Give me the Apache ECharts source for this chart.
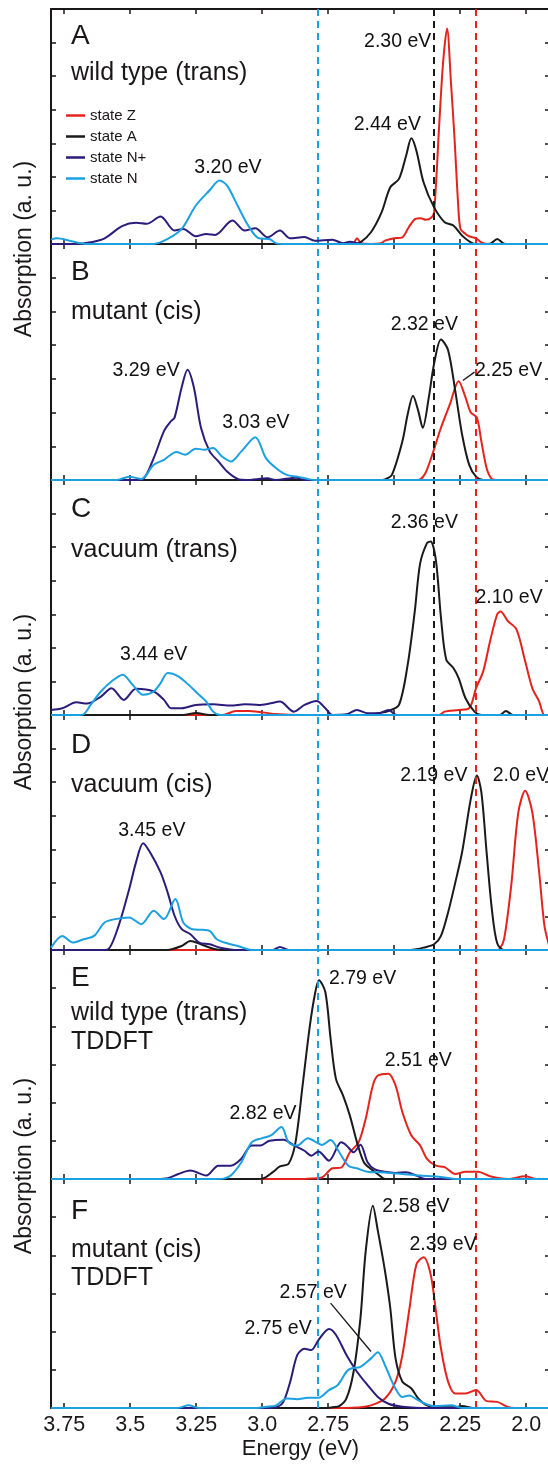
<!DOCTYPE html>
<html><head><meta charset="utf-8">
<script src="https://cdn.jsdelivr.net/npm/echarts@6/dist/echarts.min.js"></script>
<style>html,body{margin:0;padding:0;background:#fff}#c{width:548px;height:1468px}</style>
</head><body><div id="c"></div>
<script>
// ---------- axis ticks ----------
const xTicks = [3.75, 3.5, 3.25, 3.0, 2.75, 2.5, 2.25, 2.0];
const xTickLabels = ['3.75', '3.5', '3.25', '3.0', '2.75', '2.5', '2.25', '2.0'];
const seriesNames = ['state Z', 'state A', 'state N+', 'state N'];
const dashedEnergies = [2.79, 2.35, 2.19];

// ---------- panel A : wild type (trans) ----------
const A_Z = [[3.80,0],[2.70,0],[2.655,0.02],[2.641,0.17],[2.625,0.02],[2.59,0],[2.55,0.02],[2.535,0.1],[2.50,0.17],[2.469,0.2],[2.445,0.5],[2.42,0.75],[2.40,0.77],[2.38,0.72],[2.36,0.78],[2.349,0.94],[2.33,3.5],[2.315,5.4],[2.30,6.42],[2.285,4.8],[2.272,3.2],[2.258,1.2],[2.249,0.45],[2.23,0.3],[2.216,0.23],[2.19,0.17],[2.17,0.05],[2.14,0],[1.91,0]];
const A_A = [[3.80,0],[2.65,0],[2.628,0.05],[2.588,0.35],[2.548,0.94],[2.515,1.69],[2.482,1.94],[2.455,2.63],[2.435,3.15],[2.416,2.78],[2.389,1.84],[2.349,1.09],[2.309,0.65],[2.276,0.55],[2.243,0.25],[2.21,0.05],[2.19,0],[2.137,0.01],[2.11,0.15],[2.084,0.01],[2.06,0],[1.91,0]];
const A_Np = [[3.80,0],[3.70,0],[3.65,0.05],[3.597,0.17],[3.531,0.53],[3.478,0.63],[3.438,0.6],[3.385,0.82],[3.332,0.4],[3.299,0.45],[3.252,0.23],[3.212,0.3],[3.179,0.27],[3.113,0.7],[3.066,0.4],[3.026,0.47],[2.98,0.2],[2.933,0.4],[2.894,0.17],[2.84,0.21],[2.801,0.1],[2.734,0.13],[2.694,0.02],[2.668,0.07],[2.628,0],[1.91,0]];
const A_N = [[3.80,0.13],[3.777,0.17],[3.73,0.1],[3.664,0],[3.411,0],[3.358,0.15],[3.305,0.45],[3.252,1.14],[3.199,1.6],[3.162,1.89],[3.133,1.74],[3.093,1.14],[3.053,0.55],[3.013,0.17],[2.973,0.15],[2.947,0.02],[2.92,0],[1.91,0]];
const A_labels = [['3.20 eV',3.13,2.28],['2.44 eV',2.526,3.57],['2.30 eV',2.487,6.03]];

// ---------- panel B : mutant (cis) ----------
const B_Z = [[3.80,0],[2.42,0],[2.402,0.02],[2.382,0.2],[2.356,0.75],[2.323,1.55],[2.289,2.25],[2.256,2.93],[2.23,2.45],[2.21,2.0],[2.187,1.85],[2.17,1.15],[2.15,0.35],[2.13,0.03],[2.11,0],[1.91,0]];
const B_A = [[3.80,0],[2.56,0],[2.535,0.02],[2.509,0.15],[2.469,1.15],[2.449,1.95],[2.429,2.5],[2.409,2.05],[2.392,1.55],[2.369,2.45],[2.349,3.45],[2.323,4.17],[2.296,3.85],[2.269,2.65],[2.243,1.35],[2.216,0.45],[2.19,0.1],[2.163,0],[1.91,0]];
const B_Np = [[3.80,0],[3.48,0],[3.451,0.03],[3.411,0.65],[3.372,1.45],[3.345,1.75],[3.332,1.85],[3.305,2.75],[3.283,3.27],[3.259,2.75],[3.232,1.55],[3.199,0.85],[3.166,0.55],[3.133,0.25],[3.093,0.03],[3.06,0],[2.98,0.05],[2.95,0],[2.87,0.07],[2.84,0],[1.91,0]];
const B_N = [[3.80,0],[3.55,0],[3.504,0.1],[3.458,0.03],[3.411,0.45],[3.372,0.6],[3.325,0.83],[3.292,0.75],[3.252,0.93],[3.219,0.9],[3.186,0.95],[3.153,0.7],[3.119,0.55],[3.079,0.85],[3.026,1.27],[2.986,0.65],[2.947,0.35],[2.907,0.15],[2.867,0.1],[2.827,0.03],[2.80,0],[1.91,0]];
const B_labels = [['3.29 eV',3.44,3.25],['3.03 eV',3.024,1.7],['2.32 eV',2.386,4.6],['2.25 eV',2.067,3.25]];
const B_leader = [[2.24,2.95],[2.196,3.2]];

// ---------- panel C : vacuum (trans) ----------
const C_Z = [[3.80,0],[3.15,0],[3.10,0.12],[3.05,0.12],[2.95,0.03],[2.85,0],[2.33,0],[2.309,0.1],[2.256,0.15],[2.216,0.2],[2.19,0.8],[2.163,1.3],[2.137,2.2],[2.11,3.0],[2.097,3.08],[2.07,2.8],[2.037,2.55],[2.004,1.6],[1.977,0.8],[1.951,0.4],[1.931,0],[1.91,0]];
const C_A = [[3.80,0],[3.30,0],[3.25,0.06],[3.20,0],[2.60,0],[2.562,0.05],[2.522,0.12],[2.482,0.3],[2.449,1.5],[2.422,3.1],[2.402,4.51],[2.376,5.12],[2.362,5.17],[2.342,4.6],[2.323,2.9],[2.303,1.65],[2.276,1.4],[2.256,1.1],[2.23,0.5],[2.196,0.1],[2.17,0],[2.10,0],[2.077,0.12],[2.05,0],[1.91,0]];
const C_Np = [[3.80,0.15],[3.757,0.2],[3.704,0.38],[3.664,0.34],[3.611,0.55],[3.571,0.8],[3.524,0.45],[3.478,0.78],[3.411,0.7],[3.372,0.45],[3.345,0.2],[3.305,0.2],[3.252,0.3],[3.186,0.32],[3.119,0.28],[3.066,0.32],[3.013,0.3],[2.973,0.34],[2.933,0.4],[2.88,0.1],[2.84,0.3],[2.794,0.42],[2.761,0.2],[2.734,0],[2.68,0.02],[2.641,0.15],[2.60,0.05],[2.56,0.05],[2.522,0.15],[2.49,0],[1.91,0]];
const C_N = [[3.80,0],[3.70,0],[3.677,0.02],[3.65,0.3],[3.611,0.7],[3.571,1.0],[3.528,1.2],[3.491,0.9],[3.451,0.6],[3.411,0.7],[3.385,0.95],[3.358,1.25],[3.318,1.15],[3.279,0.9],[3.239,0.6],[3.212,0.4],[3.186,0.1],[3.159,0],[1.91,0]];
const C_labels = [['3.44 eV',3.411,1.8],['2.36 eV',2.386,5.72],['2.10 eV',2.065,3.51]];

// ---------- panel D : vacuum (cis) ----------
const D_Z = [[3.80,0],[2.11,0],[2.103,0.01],[2.084,0.32],[2.057,1.91],[2.03,4.1],[2.004,4.74],[1.977,4.1],[1.951,2.31],[1.931,0.72],[1.913,0.12],[1.91,0.05]];
const D_A = [[3.80,0],[3.36,0],[3.305,0.12],[3.272,0.27],[3.232,0.17],[3.186,0.04],[3.146,0],[2.44,0],[2.416,0.02],[2.389,0.07],[2.349,0.17],[2.323,0.42],[2.296,1.12],[2.269,2.0],[2.243,2.91],[2.21,4.5],[2.187,5.2],[2.17,4.7],[2.15,2.9],[2.13,1.2],[2.11,0.2],[2.084,0],[1.91,0]];
const D_Np = [[3.80,0],[3.61,0],[3.584,0.02],[3.544,0.72],[3.504,1.81],[3.478,2.61],[3.451,3.18],[3.425,2.91],[3.385,2.31],[3.358,1.71],[3.332,1.02],[3.305,0.62],[3.272,0.47],[3.239,0.22],[3.199,0.17],[3.159,0.07],[3.093,0],[2.96,0],[2.933,0.09],[2.90,0],[1.91,0]];
const D_N = [[3.80,0.07],[3.757,0.42],[3.717,0.22],[3.677,0.32],[3.637,0.42],[3.597,0.82],[3.557,0.92],[3.504,0.97],[3.458,0.77],[3.411,1.17],[3.372,0.92],[3.329,1.52],[3.299,0.82],[3.265,0.62],[3.226,0.6],[3.199,0.57],[3.172,0.32],[3.133,0.2],[3.093,0.12],[3.04,0],[1.91,0]];
const D_labels = [['3.45 eV',3.418,3.55],['2.19 eV',2.35,5.2],['2.0 eV',2.02,5.2]];

// ---------- panel E : wild type (trans) TDDFT ----------
const E_Z = [[3.80,0],[2.84,0],[2.814,0.01],[2.774,0.04],[2.734,0.28],[2.701,0.3],[2.668,0.7],[2.635,0.96],[2.608,1.58],[2.581,2.45],[2.562,2.71],[2.522,2.76],[2.495,2.45],[2.469,1.75],[2.435,1.14],[2.402,0.88],[2.376,0.53],[2.342,0.35],[2.309,0.31],[2.269,0.13],[2.23,0.19],[2.183,0.19],[2.137,0.07],[2.07,0.0],[2.004,0.07],[1.96,0],[1.91,0]];
const E_A = [[3.80,0],[3.03,0],[3.0,0.01],[2.96,0.18],[2.933,0.33],[2.90,0.4],[2.874,0.96],[2.847,2.45],[2.821,3.94],[2.801,4.82],[2.785,5.21],[2.761,4.9],[2.741,3.68],[2.721,2.63],[2.694,2.19],[2.668,1.66],[2.641,0.96],[2.615,0.44],[2.588,0.26],[2.555,0.09],[2.535,0],[1.91,0]];
const E_Np = [[3.80,0],[3.40,0],[3.358,0.02],[3.318,0.13],[3.272,0.22],[3.212,0.09],[3.166,0.35],[3.119,0.35],[3.079,0.53],[3.04,0.88],[3.006,0.88],[2.973,1.0],[2.92,1.03],[2.88,0.88],[2.84,0.74],[2.814,0.61],[2.787,0.72],[2.747,0.48],[2.701,0.96],[2.681,0.88],[2.654,0.7],[2.628,0.9],[2.601,0.44],[2.575,0.26],[2.535,0.19],[2.495,0.16],[2.455,0.18],[2.416,0.09],[2.382,0],[1.91,0]];
const E_N = [[3.80,0],[3.17,0],[3.146,0.01],[3.119,0.09],[3.079,0.44],[3.04,0.96],[3.0,1.07],[2.967,1.14],[2.927,1.36],[2.90,0.96],[2.867,0.88],[2.827,1.07],[2.794,0.96],[2.774,0.89],[2.741,1.02],[2.708,0.7],[2.674,0.35],[2.641,0.28],[2.601,0.19],[2.535,0.17],[2.469,0.13],[2.402,0.09],[2.349,0.07],[2.309,0.04],[2.269,0],[1.91,0]];
const E_labels = [['2.82 eV',2.997,1.71],['2.79 eV',2.62,5.25],['2.51 eV',2.409,3.11]];

// ---------- panel F : mutant (cis) TDDFT ----------
const F_Z = [[3.80,0],[2.68,0],[2.641,0.01],[2.588,0.07],[2.535,0.25],[2.495,0.69],[2.469,1.39],[2.442,2.62],[2.416,3.76],[2.389,3.95],[2.362,3.5],[2.342,2.53],[2.323,1.56],[2.296,0.69],[2.269,0.38],[2.23,0.38],[2.19,0.47],[2.15,0.18],[2.11,0.16],[2.07,0.03],[2.044,0],[1.91,0]];
const F_A = [[3.80,0],[2.76,0],[2.734,0.02],[2.708,0.05],[2.681,0.25],[2.654,0.95],[2.628,2.35],[2.608,4.11],[2.581,5.3],[2.562,4.64],[2.535,3.59],[2.515,2.62],[2.495,1.3],[2.469,0.69],[2.435,0.51],[2.409,0.25],[2.382,0.09],[2.349,0.03],[2.27,0.02],[2.243,0.05],[2.20,0],[1.91,0]];
const F_Np = [[3.80,0],[2.98,0],[2.947,0.02],[2.92,0.16],[2.894,0.69],[2.867,1.39],[2.84,1.55],[2.814,1.52],[2.787,1.78],[2.747,2.07],[2.721,1.92],[2.681,1.39],[2.641,0.95],[2.601,0.6],[2.562,0.29],[2.522,0.11],[2.469,0.03],[2.402,0],[1.91,0]];
const F_N = [[3.80,0],[3.32,0],[3.279,0.07],[3.24,0],[3.02,0],[2.986,0.03],[2.947,0.07],[2.907,0.25],[2.867,0.23],[2.827,0.27],[2.787,0.27],[2.747,0.47],[2.714,0.6],[2.681,0.95],[2.661,1.04],[2.628,1.08],[2.588,1.3],[2.562,1.46],[2.535,1.12],[2.502,0.6],[2.469,0.29],[2.442,0.33],[2.416,0.23],[2.382,0.11],[2.349,0.05],[2.283,0.07],[2.243,0],[1.91,0]];
const F_labels = [['2.75 eV',2.94,2.09],['2.57 eV',2.807,3.01],['2.58 eV',2.418,5.28],['2.39 eV',2.315,4.29]];
const F_leader = [[2.741,2.75],[2.588,1.48]];

// ---------- layout & style ----------
const FONT = '"Liberation Sans", Arial, Helvetica, sans-serif';
const TXT = '#1a1718';
const COLORS = ['#e3241d', '#1a1a1a', '#2c1b7a', '#1ca0e0'];
const DASH_COLORS = ['#1ca0e0', '#1a1a1a', '#e3241d'];
const X_MIN = 1.91, X_MAX = 3.80, GRID_LEFT = 51, GRID_RIGHT = -2;

const panels = [
  {top: 9,    height: 235, ymax: 7, letter: 'A', texts: ['wild type (trans)'], letterY: 27, textY: [64], data: [A_Z, A_A, A_Np, A_N], labels: A_labels, leader: null},
  {top: 244,  height: 236, ymax: 7, letter: 'B', texts: ['mutant (cis)'], letterY: 28, textY: [68], data: [B_Z, B_A, B_Np, B_N], labels: B_labels, leader: B_leader},
  {top: 480,  height: 235, ymax: 7, letter: 'C', texts: ['vacuum (trans)'], letterY: 29, textY: [70], data: [C_Z, C_A, C_Np, C_N], labels: C_labels, leader: null},
  {top: 715,  height: 235, ymax: 7, letter: 'D', texts: ['vacuum (cis)'], letterY: 30, textY: [70], data: [D_Z, D_A, D_Np, D_N], labels: D_labels, leader: null},
  {top: 950,  height: 229, ymax: 6, letter: 'E', texts: ['wild type (trans)', 'TDDFT'], letterY: 28, textY: [63, 92], data: [E_Z, E_A, E_Np, E_N], labels: E_labels, leader: null},
  {top: 1179, height: 229, ymax: 6, letter: 'F', texts: ['mutant (cis)', 'TDDFT'], letterY: 32, textY: [71, 99], data: [F_Z, F_A, F_Np, F_N], labels: F_labels, leader: F_leader}
];

const axisLine = {show: true, onZero: false, lineStyle: {color: TXT, width: 2}};
const tickStyle = {color: TXT, width: 1.5};
const tickLabel = v => {
  const i = xTicks.findIndex(t => Math.abs(t - v) < 1e-6);
  return i >= 0 ? xTickLabels[i] : '';
};

const grid = [], xAxis = [], yAxis = [], series = [], graphic = [];

panels.forEach((p, i) => {
  grid.push({left: GRID_LEFT, right: GRID_RIGHT, top: p.top, height: p.height, containLabel: false, outerBoundsMode: 'none'});
  const last = i === panels.length - 1;
  xAxis.push({
    type: 'value', gridIndex: i, min: X_MIN, max: X_MAX, inverse: true, position: 'bottom',
    axisLine, splitLine: {show: false},
    axisTick: {show: true, inside: true, length: 5, customValues: xTicks, lineStyle: tickStyle},
    axisLabel: {show: last, customValues: xTicks, formatter: tickLabel, fontSize: 21.5, color: TXT, fontFamily: FONT, margin: 6},
    name: last ? 'Energy (eV)' : '', nameLocation: 'middle', nameGap: 30,
    nameTextStyle: {fontSize: 22, color: TXT, fontFamily: FONT}
  });
  xAxis.push({
    type: 'value', gridIndex: i, min: X_MIN, max: X_MAX, inverse: true, position: 'top',
    axisLine, splitLine: {show: false},
    axisTick: {show: true, inside: true, length: 5, customValues: xTicks, lineStyle: tickStyle},
    axisLabel: {show: false, customValues: xTicks}
  });
  ['left', 'right'].forEach(pos => yAxis.push({
    type: 'value', gridIndex: i, min: 0, max: p.ymax, interval: 1, position: pos,
    axisLine, splitLine: {show: false},
    axisTick: {show: true, inside: true, length: 5, lineStyle: tickStyle},
    axisLabel: {show: false}
  }));
  const xi = 2 * i, yi = 2 * i;
  p.data.forEach((d, k) => series.push({
    type: 'line', name: seriesNames[k], xAxisIndex: xi, yAxisIndex: yi, data: d,
    showSymbol: false, symbol: 'none', smooth: 0.3, silent: true, z: 3 + k,
    lineStyle: {color: COLORS[k], width: 2}, itemStyle: {color: COLORS[k]}
  }));
  series.push({
    type: 'scatter', name: 'labels' + p.letter, xAxisIndex: xi, yAxisIndex: yi,
    data: p.labels.map(l => ({value: [l[1], l[2]], name: l[0]})),
    symbolSize: 1, itemStyle: {color: 'transparent', opacity: 1}, silent: true, z: 8,
    label: {show: true, position: 'inside', formatter: '{b}', fontSize: 19.5, color: '#111', opacity: 1,
      textBorderWidth: 0, fontFamily: FONT}
  });
  if (p.leader) series.push({
    type: 'line', name: 'leader' + p.letter, xAxisIndex: xi, yAxisIndex: yi, data: p.leader,
    symbol: 'none', showSymbol: false, smooth: false, silent: true, z: 8,
    lineStyle: {color: TXT, width: 1.3}
  });
  graphic.push({type: 'text', x: 71, y: p.top + p.letterY, silent: true,
    style: {text: p.letter, fontSize: 28, fontFamily: FONT, fill: TXT, align: 'left', verticalAlign: 'middle'}});
  p.texts.forEach((t, j) => graphic.push({type: 'text', x: 71, y: p.top + p.textY[j], silent: true,
    style: {text: t, fontSize: 25, fontFamily: FONT, fill: TXT, align: 'left', verticalAlign: 'middle'}}));
});

// overlay grid for the dashed reference lines spanning all panels
const ov = panels.length;
grid.push({left: GRID_LEFT, right: GRID_RIGHT, top: panels[0].top, bottom: 1468 - 1408, containLabel: false, outerBoundsMode: 'none'});
xAxis.push({type: 'value', gridIndex: ov, min: X_MIN, max: X_MAX, inverse: true, show: false});
yAxis.push({type: 'value', gridIndex: ov, min: 0, max: 1, show: false});
series.push({
  type: 'line', name: 'refLines', xAxisIndex: 2 * ov, yAxisIndex: 2 * ov, data: [], silent: true, z: 2,
  markLine: {
    symbol: ['none', 'none'], silent: true, animation: false, label: {show: false},
    data: dashedEnergies.map((e, k) => ({xAxis: e, lineStyle: {color: DASH_COLORS[k], type: [7, 5], width: 2}}))
  }
});

// rotated y titles
[249, 702, 1166].forEach(y => graphic.push({type: 'text', x: 25, y, rotation: Math.PI / 2, silent: true,
  style: {text: 'Absorption (a. u.)', fontSize: 23, fontFamily: FONT, fill: TXT, align: 'center', verticalAlign: 'middle'}}));

const chart = echarts.init(document.getElementById('c'), null, {renderer: 'canvas'});
chart.setOption({
  animation: false,
  backgroundColor: '#fff',
  grid, xAxis, yAxis, series, graphic,
  legend: {
    data: seriesNames, orient: 'vertical', left: 66, top: 108, padding: 0, itemWidth: 19, itemHeight: 2.5,
    itemGap: 6, icon: 'rect', selectedMode: false,
    textStyle: {fontSize: 15, color: TXT, fontFamily: FONT}
  }
});
</script>
</body></html>
